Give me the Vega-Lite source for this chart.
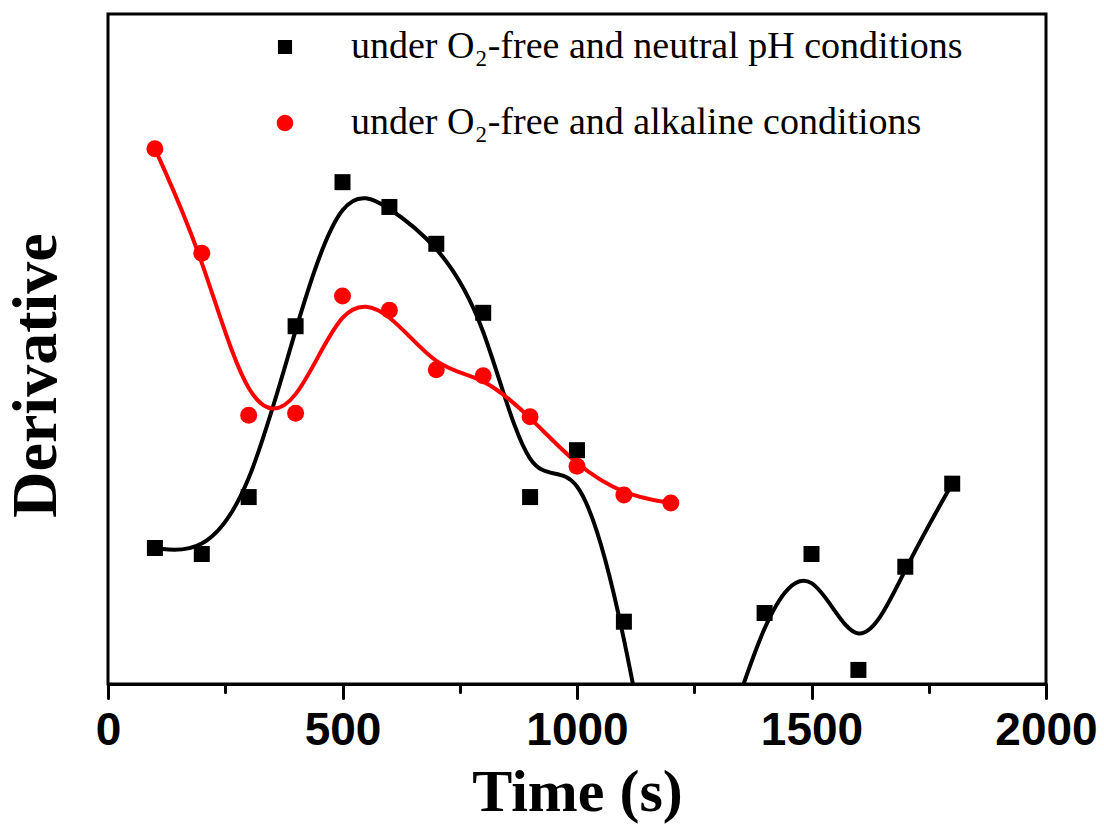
{
  "$schema": "https://vega.github.io/schema/vega-lite/v6.json",
  "width": 938,
  "height": 670,
  "autosize": {"type": "none"},
  "padding": {"left": 108, "top": 14, "right": 58, "bottom": 145},
  "background": "white",
  "config": {
    "view": {"stroke": "black", "strokeWidth": 3},
    "legend": {
      "orient": "none",
      "legendX": 158,
      "padding": 0,
      "title": null,
      "labelFont": "Liberation Serif",
      "labelFontSize": 38,
      "labelColor": "black",
      "labelLimit": 1000,
      "labelOffset": 47,
      "symbolSize": 900,
      "symbolStrokeWidth": 4,
      "symbolOpacity": 1,
      "rowPadding": 38
    }
  },
  "data": {
    "values": [
      {"series": "under O₂-free and neutral pH conditions", "time": 100, "value": 2.03},
      {"series": "under O₂-free and neutral pH conditions", "time": 200, "value": 1.94},
      {"series": "under O₂-free and neutral pH conditions", "time": 300, "value": 2.79},
      {"series": "under O₂-free and neutral pH conditions", "time": 400, "value": 5.34},
      {"series": "under O₂-free and neutral pH conditions", "time": 500, "value": 7.49},
      {"series": "under O₂-free and neutral pH conditions", "time": 600, "value": 7.12},
      {"series": "under O₂-free and neutral pH conditions", "time": 700, "value": 6.57},
      {"series": "under O₂-free and neutral pH conditions", "time": 800, "value": 5.54},
      {"series": "under O₂-free and neutral pH conditions", "time": 900, "value": 2.79},
      {"series": "under O₂-free and neutral pH conditions", "time": 1000, "value": 3.49},
      {"series": "under O₂-free and neutral pH conditions", "time": 1100, "value": 0.93},
      {"series": "under O₂-free and neutral pH conditions", "time": 1200, "value": -3.22},
      {"series": "under O₂-free and neutral pH conditions", "time": 1300, "value": -1.21},
      {"series": "under O₂-free and neutral pH conditions", "time": 1400, "value": 1.06},
      {"series": "under O₂-free and neutral pH conditions", "time": 1500, "value": 1.94},
      {"series": "under O₂-free and neutral pH conditions", "time": 1600, "value": 0.21},
      {"series": "under O₂-free and neutral pH conditions", "time": 1700, "value": 1.75},
      {"series": "under O₂-free and neutral pH conditions", "time": 1800, "value": 2.99},
      {"series": "under O₂-free and alkaline conditions", "time": 100, "value": 7.99},
      {"series": "under O₂-free and alkaline conditions", "time": 200, "value": 6.43},
      {"series": "under O₂-free and alkaline conditions", "time": 300, "value": 4.01},
      {"series": "under O₂-free and alkaline conditions", "time": 400, "value": 4.04},
      {"series": "under O₂-free and alkaline conditions", "time": 500, "value": 5.79},
      {"series": "under O₂-free and alkaline conditions", "time": 600, "value": 5.58},
      {"series": "under O₂-free and alkaline conditions", "time": 700, "value": 4.69},
      {"series": "under O₂-free and alkaline conditions", "time": 800, "value": 4.6},
      {"series": "under O₂-free and alkaline conditions", "time": 900, "value": 3.99},
      {"series": "under O₂-free and alkaline conditions", "time": 1000, "value": 3.25},
      {"series": "under O₂-free and alkaline conditions", "time": 1100, "value": 2.82},
      {"series": "under O₂-free and alkaline conditions", "time": 1200, "value": 2.7}
    ]
  },
  "encoding": {
    "x": {
      "field": "time",
      "type": "quantitative",
      "scale": {"domain": [0, 2000], "nice": false},
      "axis": {
        "values": [0, 250, 500, 750, 1000, 1250, 1500, 1750, 2000],
        "labelExpr": "datum.value % 500 === 0 ? datum.label : ''",
        "format": "d",
        "tickSize": {"condition": {"test": "datum.value % 500 === 0", "value": 14}, "value": 8},
        "tickWidth": 3,
        "tickColor": "black",
        "tickCap": "round",
        "domainColor": "black",
        "domainWidth": 3,
        "labelFont": "Liberation Sans",
        "labelFontSize": 46,
        "labelFontWeight": "bold",
        "labelColor": "black",
        "labelPadding": 10,
        "labelOverlap": false,
        "labelFlush": false,
        "grid": false,
        "title": "Time (s)",
        "titleFont": "Liberation Serif",
        "titleFontSize": 60,
        "titleFontWeight": "bold",
        "titleColor": "black",
        "titlePadding": 10
      }
    },
    "y": {
      "field": "value",
      "type": "quantitative",
      "scale": {"domain": [0, 10], "nice": false, "zero": false},
      "axis": {
        "title": "Derivative",
        "labels": false,
        "ticks": false,
        "domain": false,
        "grid": false,
        "titleFont": "Liberation Serif",
        "titleFontSize": 64,
        "titleFontWeight": "bold",
        "titleColor": "black",
        "titlePadding": 40,
        "titleY": 361
      }
    }
  },
  "layer": [
    {
      "mark": {"type": "line", "interpolate": "basis", "strokeWidth": 4, "clip": true},
      "encoding": {
        "color": {
          "field": "series",
          "type": "nominal",
          "scale": {"domain": ["under O₂-free and neutral pH conditions", "under O₂-free and alkaline conditions"], "range": ["#000000", "#ff0000"]},
          "legend": null
        }
      }
    },
    {
      "transform": [{"filter": "datum.series === 'under O₂-free and neutral pH conditions'"}],
      "mark": {"type": "point", "filled": true, "shape": "square", "size": 256, "color": "#000000", "opacity": 1, "clip": true}
    },
    {
      "transform": [{"filter": "datum.series === 'under O₂-free and alkaline conditions'"}],
      "mark": {"type": "point", "filled": true, "shape": "circle", "size": 289, "color": "#ff0000", "opacity": 1, "clip": true}
    },
    {
      "transform": [{"filter": "datum.series === 'under O₂-free and neutral pH conditions'"}],
      "mark": {"type": "point", "filled": true, "fill": "#000000", "stroke": "#000000", "strokeWidth": 4, "opacity": 0, "clip": true},
      "encoding": {
        "shape": {
          "field": "series",
          "type": "nominal",
          "scale": {"domain": ["under O₂-free and neutral pH conditions"], "range": ["M-3.87,0H3.87M-0.47,-0.47H0.47V0.47H-0.47Z"]},
          "legend": {"legendY": 14, "symbolFillColor": "#000000", "symbolStrokeColor": "#000000"}
        }
      }
    },
    {
      "transform": [{"filter": "datum.series === 'under O₂-free and alkaline conditions'"}],
      "mark": {"type": "point", "filled": true, "fill": "#ff0000", "stroke": "#ff0000", "strokeWidth": 4, "opacity": 0, "clip": true},
      "encoding": {
        "shape": {
          "field": "series",
          "type": "nominal",
          "scale": {"domain": ["under O₂-free and alkaline conditions"], "range": ["M-3.87,0H3.87M-0.55,0A0.55,0.55 0 1,0 0.55,0A0.55,0.55 0 1,0 -0.55,0Z"]},
          "legend": {"legendY": 90, "symbolFillColor": "#ff0000", "symbolStrokeColor": "#ff0000"}
        }
      }
    }
  ],
  "resolve": {"scale": {"shape": "independent"}, "legend": {"shape": "independent"}}
}
